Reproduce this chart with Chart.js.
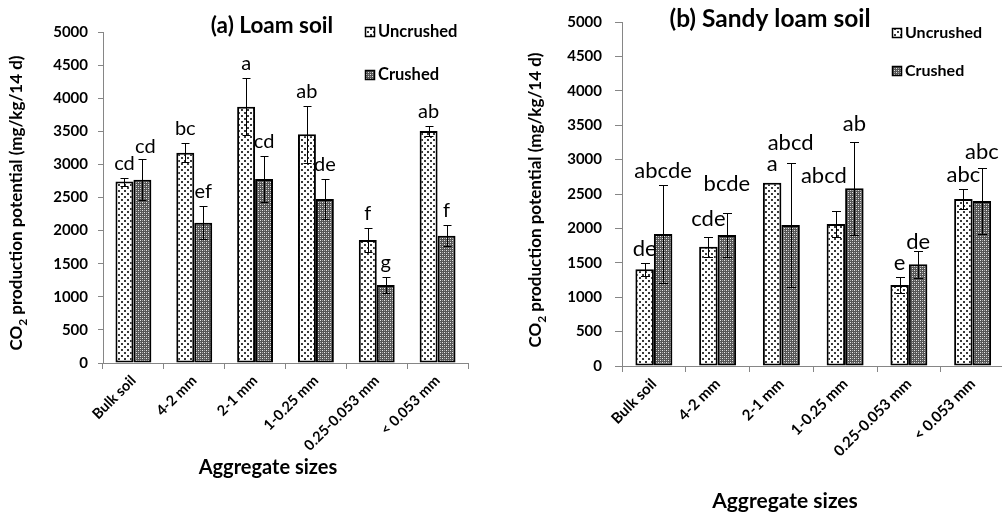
<!DOCTYPE html>
<html>
<head>
<meta charset="utf-8">
<script src="https://cdn.jsdelivr.net/npm/chart.js@4.4.1/dist/chart.umd.min.js"></script>
<style>
  html, body { margin: 0; padding: 0; background: #fff; overflow: hidden; }
  #wrap { position: relative; width: 1002px; height: 517px; overflow: hidden; background: #fff; }
  canvas { position: absolute; top: 0; }
  #loam { left: 0; }
  #sandy { left: 500px; }
</style>
</head>
<body>
<div id="wrap">
  <canvas id="loam" width="500" height="517"></canvas>
  <canvas id="sandy" width="506" height="517"></canvas>
</div>
<script>
// Aggregate size classes (x categories)
const categories = ['Bulk soil', '4-2 mm', '2-1 mm', '1-0.25 mm', '0.25-0.053 mm', '< 0.053 mm'];
const yTicks = [0, 500, 1000, 1500, 2000, 2500, 3000, 3500, 4000, 4500, 5000];

// (a) Loam soil — CO2 production potential (mg/kg/14 d)
const loamUncrushed      = [2740, 3177, 3870, 3455, 1858, 3505];
const loamUncrushedSE    = [60, 140, 430, 430, 180, 70];
const loamUncrushedGroup = ['cd', 'bc', 'a', 'ab', 'f', 'ab'];
const loamCrushed        = [2770, 2120, 2780, 2477, 1178, 1923];
const loamCrushedSE      = [310, 250, 350, 300, 125, 160];
const loamCrushedGroup   = ['cd', 'ef', 'cd', 'de', 'g', 'f'];

// (b) Sandy loam soil
const sandyUncrushed      = [1405, 1734, 2664, 2064, 1177, 2427];
const sandyUncrushedSE    = [95, 145, 0, 190, 120, 140];
const sandyUncrushedGroup = ['de', 'cde', 'a', 'abcd', 'e', 'abc'];
const sandyCrushed        = [1919, 1904, 2049, 2583, 1478, 2398];
const sandyCrushedSE      = [710, 315, 897, 677, 195, 480];
const sandyCrushedGroup   = ['abcde', 'bcde', 'abcd', 'ab', 'de', 'abc'];

// ---- fill patterns ----
function makeDotted() {
  const c = document.createElement('canvas');
  c.width = 6; c.height = 6;
  const g = c.getContext('2d');
  g.fillStyle = '#ffffff'; g.fillRect(0, 0, 6, 6);
  g.fillStyle = '#3a3a3a';
  g.fillRect(1, 1, 2, 2);
  g.fillRect(4, 4, 2, 2);
  return g.createPattern(c, 'repeat');
}
function makeCheck() {
  const c = document.createElement('canvas');
  c.width = 4; c.height = 4;
  const g = c.getContext('2d');
  g.fillStyle = '#555555'; g.fillRect(0, 0, 4, 4);
  g.fillStyle = '#e8e8e8';
  g.fillRect(0, 0, 1, 1); g.fillRect(2, 2, 1, 1);
  g.fillStyle = '#a8a8a8';
  g.fillRect(2, 0, 1, 1); g.fillRect(0, 2, 1, 1);
  return g.createPattern(c, 'repeat');
}
const dotted = makeDotted();
const checked = makeCheck();

const AXIS = '#868686';
const FONT = 'Lato, "Open Sans", sans-serif';

// error bars with group letters above them
const errorLetters = {
  id: 'errorLetters',
  afterDatasetsDraw(chart, args, o) {
    const ctx = chart.ctx, ys = chart.scales.y;
    ctx.save();
    chart.data.datasets.forEach((ds, di) => {
      const meta = chart.getDatasetMeta(di);
      meta.data.forEach((bar, i) => {
        const v = ds.data[i], e = ds.se[i];
        const x = Math.round(bar.x) + 0.5;
        const yt = Math.round(ys.getPixelForValue(v + e)) + 0.5;
        const yb = Math.round(ys.getPixelForValue(v - e)) + 0.5;
        if (e > 0) {
          ctx.strokeStyle = '#000';
          ctx.lineWidth = 1;
          ctx.beginPath();
          ctx.moveTo(x, yt); ctx.lineTo(x, yb);
          ctx.moveTo(x - o.cap, yt); ctx.lineTo(x + o.cap, yt);
          ctx.moveTo(x - o.cap, yb); ctx.lineTo(x + o.cap, yb);
          ctx.stroke();
        }
        const sh = o.shift[di + ':' + i] || [0, 0];
        ctx.fillStyle = '#000';
        ctx.font = o.letterSize + 'px ' + FONT;
        ctx.textAlign = 'center';
        ctx.textBaseline = 'middle';
        ctx.fillText(ds.group[i], bar.x + sh[0], yt - o.gap + sh[1]);
      });
    });
    ctx.restore();
  }
};

// panel title, legend and axis titles
const panelText = {
  id: 'panelText',
  afterDraw(chart, args, o) {
    const ctx = chart.ctx;
    ctx.save();
    ctx.fillStyle = '#000';
    // panel title
    ctx.font = 'bold ' + o.titleSize + 'px ' + FONT;
    ctx.textAlign = 'center'; ctx.textBaseline = 'middle';
    ctx.fillText(o.title, o.titleX, o.titleY);
    // legend
    const items = [['Uncrushed', dotted], ['Crushed', checked]];
    items.forEach((it, k) => {
      const y = o.legendY[k];
      ctx.fillStyle = it[1];
      ctx.fillRect(o.legendX, y - 5, 10, 10);
      ctx.strokeStyle = '#000'; ctx.lineWidth = 1.5;
      ctx.strokeRect(o.legendX + 0.5, y - 4.5, 9, 9);
      ctx.fillStyle = '#000';
      ctx.font = 'bold ' + o.legendSize + 'px ' + FONT;
      ctx.textAlign = 'left'; ctx.textBaseline = 'middle';
      ctx.fillText(it[0], o.legendX + 13, y);
    });
    // x axis title
    ctx.font = 'bold ' + o.xTitleSize + 'px ' + FONT;
    ctx.textAlign = 'center'; ctx.textBaseline = 'middle';
    ctx.fillText('Aggregate sizes', o.xTitleX, o.xTitleY);
    // y axis title with subscript
    ctx.translate(o.yTitleX, o.yTitleY);
    ctx.rotate(-Math.PI / 2);
    const s = o.yTitleSize;
    const big = 'bold ' + s + 'px ' + FONT, small = 'bold ' + Math.round(s * 0.7) + 'px ' + FONT;
    const p1 = 'CO', p2 = '2', p3 = ' production potential (mg/kg/14 d)';
    ctx.font = big; const w1 = ctx.measureText(p1).width, w3 = ctx.measureText(p3).width;
    ctx.font = small; const w2 = ctx.measureText(p2).width;
    let x = -(w1 + w2 + w3) / 2;
    ctx.textAlign = 'left'; ctx.textBaseline = 'alphabetic';
    const base = s * 0.36;
    ctx.font = big; ctx.fillText(p1, x, base); x += w1;
    ctx.font = small; ctx.fillText(p2, x, base + s * 0.28); x += w2;
    ctx.font = big; ctx.fillText(p3, x, base);
    ctx.restore();
  }
};

function buildChart(id, cfg) {
  return new Chart(document.getElementById(id), {
    type: 'bar',
    data: {
      labels: categories,
      datasets: [
        { label: 'Uncrushed', data: cfg.unc, se: cfg.uncSE, group: cfg.uncG,
          backgroundColor: dotted, borderColor: '#000', borderWidth: 2, borderSkipped: false },
        { label: 'Crushed', data: cfg.cr, se: cfg.crSE, group: cfg.crG,
          backgroundColor: checked, borderColor: '#000', borderWidth: 2, borderSkipped: false }
      ]
    },
    options: {
      responsive: false,
      animation: false,
      events: [],
      layout: { padding: { left: 0, top: cfg.top, right: cfg.right, bottom: 0 } },
      datasets: { bar: { barPercentage: 1, categoryPercentage: cfg.catPct } },
      plugins: {
        legend: { display: false },
        title: { display: false },
        tooltip: { enabled: false },
        errorLetters: { cap: cfg.cap, gap: 15, letterSize: cfg.letterSize, shift: cfg.shift },
        panelText: cfg.text
      },
      scales: {
        x: {
          offset: true,
          grid: { display: true, drawOnChartArea: false, drawTicks: true, tickLength: 6, color: AXIS, offset: true },
          border: { display: true, color: AXIS, width: 1 },
          ticks: { color: '#000', font: { family: FONT, size: cfg.xFont, weight: 'bold' },
                   minRotation: 45, maxRotation: 45, autoSkip: false, padding: cfg.xPad },
          afterFit: s => { s.height = 517 - cfg.bottomY; }
        },
        y: {
          min: 0, max: 5000,
          afterBuildTicks: s => { s.ticks = yTicks.map(v => ({ value: v })); },
          grid: { display: true, drawOnChartArea: false, drawTicks: true, tickLength: cfg.yTick, color: AXIS },
          border: { display: true, color: AXIS, width: 1 },
          ticks: { color: '#000', font: { family: FONT, size: 15, weight: 'bold' }, padding: cfg.yPad,
                   callback: v => String(v) },
          afterFit: s => { s.width = cfg.left; }
        }
      }
    },
    plugins: [errorLetters, panelText]
  });
}

buildChart('loam', {
  unc: loamUncrushed, uncSE: loamUncrushedSE, uncG: loamUncrushedGroup,
  cr: loamCrushed, crSE: loamCrushedSE, crG: loamCrushedGroup,
  left: 103, top: 32, right: 32, bottomY: 363, catPct: 0.59, cap: 4, yTick: 5, yPad: 10,
  xPad: 3, xFont: 14.5,
  letterSize: 20,
  shift: { '1:0': [3, 2] },
  text: { title: '(a) Loam soil', titleSize: 22.5, titleX: 272, titleY: 26,
          legendX: 365, legendY: [32, 75], legendSize: 16.5,
          xTitleX: 268, xTitleY: 468, xTitleSize: 20,
          yTitleX: 16, yTitleY: 203, yTitleSize: 17 }
});

buildChart('sandy', {
  unc: sandyUncrushed, uncSE: sandyUncrushedSE, uncG: sandyUncrushedGroup,
  cr: sandyCrushed, crSE: sandyCrushedSE, crG: sandyCrushedGroup,
  left: 122, top: 22, right: 1.5, bottomY: 366, catPct: 0.58, cap: 4.5, yTick: 7, yPad: 13,
  xPad: 3, xFont: 15,
  letterSize: 22,
  shift: { '0:1': [0, -4], '1:1': [0, -15], '0:2': [0, -5], '1:2': [0, -6],
           '0:3': [-12, -21], '1:3': [0, -4], '1:4': [0, 5], '1:5': [0, -2] },
  text: { title: '(b) Sandy loam soil', titleSize: 24.5, titleX: 270, titleY: 19,
          legendX: 392, legendY: [33, 71], legendSize: 16,
          xTitleX: 285, xTitleY: 501, xTitleSize: 21,
          yTitleX: 35, yTitleY: 200, yTitleSize: 17 }
});
</script>
</body>
</html>
